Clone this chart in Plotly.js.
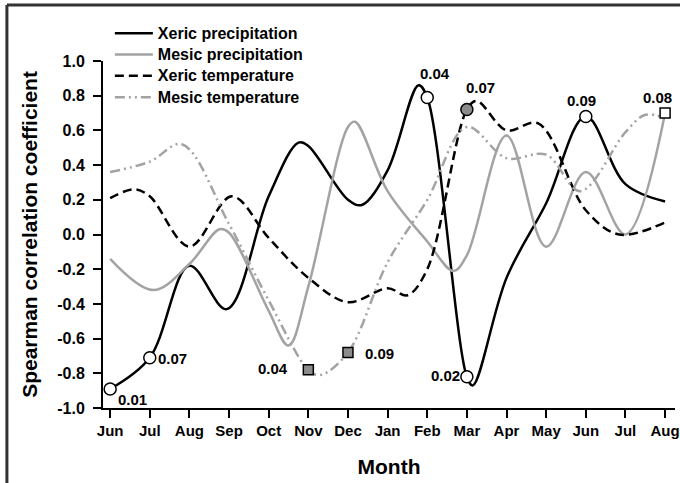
<!DOCTYPE html>
<html>
<head>
<meta charset="utf-8">
<script src="https://cdn.plot.ly/plotly-3.0.1.min.js"></script>
<style>html,body{margin:0;padding:0;background:#fff;}#chart{width:680px;height:483px;}</style>
</head>
<body>
<div id="chart"></div>
<script>
// Month tick labels (positions 0..14)
const monthLabels = ["Jun","Jul","Aug","Sep","Oct","Nov","Dec","Jan","Feb","Mar","Apr","May","Jun","Jul","Aug"];
const monthPos = [0,1,2,3,4,5,6,7,8,9,10,11,12,13,14];
const yTickVals = [-1,-0.8,-0.6,-0.4,-0.2,0,0.2,0.4,0.6,0.8,1.0];
const yTickText = ["-1.0","-0.8","-0.6","-0.4","-0.2","0.0","0.2","0.4","0.6","0.8","1.0"];
const seriesNames = ["Xeric precipitation","Mesic precipitation","Xeric temperature","Mesic temperature"];

// Xeric precipitation (x in month index)
const xpX = [0, 1, 2, 2.94, 4, 4.75, 5, 6, 6.35, 7, 7.78, 8, 9, 9.15, 10, 11, 12, 13, 14];
const xpY = [-0.89, -0.71, -0.18, -0.43, 0.22, 0.53, 0.51, 0.20, 0.17, 0.37, 0.86, 0.79, -0.82, -0.87, -0.25, 0.18, 0.68, 0.29, 0.19];
// Mesic precipitation
const mpX = [0, 1.09, 2, 2.76, 3, 4, 4.5, 5, 6, 6.18, 7, 8, 8.66, 9, 10, 11, 12, 13, 14];
const mpY = [-0.14, -0.32, -0.17, 0.03, 0.01, -0.44, -0.64, -0.30, 0.62, 0.65, 0.25, -0.04, -0.21, -0.12, 0.57, -0.07, 0.36, 0.0, 0.70];
// Xeric temperature
const xtX = [0, 0.6, 1, 2, 3.07, 4, 5, 6, 7, 7.5, 8, 9, 9.25, 10, 10.8, 12, 12.84, 14];
const xtY = [0.21, 0.26, 0.22, -0.07, 0.22, -0.02, -0.25, -0.39, -0.31, -0.35, -0.20, 0.72, 0.77, 0.60, 0.64, 0.14, 0.0, 0.07];
// Mesic temperature
const mtX = [0, 1, 1.81, 3, 4, 5, 5.3, 6, 7, 8, 9, 10, 11, 11.86, 13, 13.5, 14];
const mtY = [0.36, 0.42, 0.52, 0.06, -0.38, -0.78, -0.81, -0.68, -0.16, 0.20, 0.62, 0.44, 0.46, 0.25, 0.59, 0.69, 0.67];

// Marked months and their p-value labels
const xpMarkMonths = [0, 1, 8, 9, 12];
const xpMarkText = ["0.01","0.07","0.04","0.02","0.09"];
const xtMarkMonths = [9];
const xtMarkText = ["0.07"];
const mtMarkMonths = [5, 6];
const mtMarkText = ["0.04","0.09"];
const mpMarkMonths = [14];
const mpMarkText = ["0.08"];

function pick(xs, ys, months){ return months.map(m => ys[xs.indexOf(m)]); }
function legName(s){ return "<span style='font-size:16px'>" + s + "</span>"; }

const BLACK = "#000000", GRAY = "#a3a3a3";
const lw = 2.5;
const traces = [
  {x: xpX, y: xpY, name: legName(seriesNames[0]), mode: "lines", line: {color: BLACK, width: lw, shape: "spline", smoothing: 1}},
  {x: mpX, y: mpY, name: legName(seriesNames[1]), mode: "lines", line: {color: GRAY, width: lw, shape: "spline", smoothing: 1}},
  {x: xtX, y: xtY, name: legName(seriesNames[2]), mode: "lines", line: {color: BLACK, width: lw, shape: "spline", smoothing: 1, dash: "9px,5px"}},
  {x: mtX, y: mtY, name: legName(seriesNames[3]), mode: "lines", line: {color: GRAY, width: lw, shape: "spline", smoothing: 1, dash: "10px,4px,2px,4px,2px,4px"}},
  {x: xpMarkMonths, y: pick(xpX, xpY, xpMarkMonths), mode: "markers", showlegend: false, hoverinfo: "skip",
   marker: {symbol: "circle", size: 12, color: "#ffffff", line: {color: BLACK, width: 1.5}}},
  {x: xtMarkMonths, y: pick(xtX, xtY, xtMarkMonths), mode: "markers", showlegend: false, hoverinfo: "skip",
   marker: {symbol: "circle", size: 12, color: "#8c8c8c", line: {color: BLACK, width: 1.5}}},
  {x: mtMarkMonths, y: pick(mtX, mtY, mtMarkMonths), mode: "markers", showlegend: false, hoverinfo: "skip",
   marker: {symbol: "square", size: 10, color: "#8c8c8c", line: {color: BLACK, width: 1.5}}},
  {x: mpMarkMonths, y: pick(mpX, mpY, mpMarkMonths), mode: "markers", showlegend: false, hoverinfo: "skip",
   marker: {symbol: "square", size: 10, color: "#ffffff", line: {color: BLACK, width: 1.5}}}
];

const FAM = "Liberation Sans, Arial, sans-serif";
const annFont = {family: FAM, size: 15, color: "#000"};
function ann(xs, ys, months, texts, shifts){
  return months.map((m,i) => ({x: m, y: ys[xs.indexOf(m)], xref: "x", yref: "y", text: "<b>"+texts[i]+"</b>",
    showarrow: false, font: annFont, xshift: shifts[i][0], yshift: shifts[i][1]}));
}
const annotations = [].concat(
  ann(xpX, xpY, xpMarkMonths, xpMarkText, [[22,-11],[23,-1],[8,24],[-21,1],[-4,16]]),
  ann(xtX, xtY, xtMarkMonths, xtMarkText, [[14,22]]),
  ann(mtX, mtY, mtMarkMonths, mtMarkText, [[-35,1],[32,-1]]),
  ann(mpX, mpY, mpMarkMonths, mpMarkText, [[-8,16]])
);

const layout = {
  width: 680, height: 483,
  margin: {l: 103, r: 5, t: 61, b: 75},
  paper_bgcolor: "#ffffff", plot_bgcolor: "#ffffff",
  font: {family: FAM, color: "#000"},
  showlegend: true,
  legend: {x: 0.012, y: 1.1254, xanchor: "left", yanchor: "top", bgcolor: "rgba(0,0,0,0)",
    font: {family: FAM, size: 14.1, color: "#000", weight: "bold"}, itemwidth: 38, tracegroupgap: 0},
  xaxis: {range: [-0.18, 14.25], tickmode: "array", tickvals: monthPos, ticktext: monthLabels,
    showline: true, linecolor: "#000", linewidth: 2, ticks: "outside", ticklen: 8, tickwidth: 2, tickcolor: "#000",
    showgrid: false, zeroline: false, tickfont: {family: FAM, size: 15, color: "#000", weight: "bold"},
    title: {text: "<b>Month</b>", font: {family: FAM, size: 21, color: "#000"}, standoff: 21}},
  yaxis: {range: [-1, 1], tickmode: "array", tickvals: yTickVals, ticktext: yTickText,
    showline: true, linecolor: "#000", linewidth: 2, ticks: "outside", ticklen: 8, tickwidth: 2, tickcolor: "#000",
    ticklabelstandoff: 5,
    showgrid: false, zeroline: false, tickfont: {family: FAM, size: 16, color: "#000", weight: "bold"},
    title: {text: "<b>Spearman correlation coefficient</b>", font: {family: FAM, size: 21, color: "#000"}, standoff: 14}},
  annotations: annotations,
  shapes: [
    {type: "line", xref: "paper", yref: "paper", x0: -0.168, x1: 1.02, y0: 1.1614, y1: 1.1614, line: {color: "#333", width: 3}},
    {type: "line", xref: "paper", yref: "paper", x0: -0.168, x1: -0.168, y0: 1.1614, y1: -0.22, line: {color: "#333", width: 3}}
  ]
};
Plotly.newPlot("chart", traces, layout, {staticPlot: true, displayModeBar: false});
</script>
</body>
</html>
